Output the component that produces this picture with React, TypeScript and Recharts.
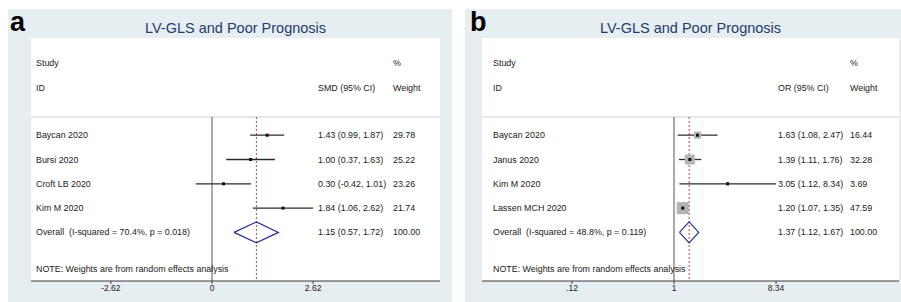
import { ComposedChart, Scatter, XAxis, YAxis, ReferenceLine } from 'recharts';

// panel a: SMD
const studiesA = ['Baycan 2020', 'Bursi 2020', 'Croft LB 2020', 'Kim M 2020'];
const estA = [1.43, 1.0, 0.3, 1.84];
const lowA = [0.99, 0.37, -0.42, 1.06];
const highA = [1.87, 1.63, 1.01, 2.62];
const weightA = [29.78, 25.22, 23.26, 21.74];
const overallA = [1.15, 0.57, 1.72];
const overallLabelA = 'Overall  (I-squared = 70.4%, p = 0.018)';
const ticksA = [-2.62, 0, 2.62];
const tickLabelsA = ['-2.62', '0', '2.62'];

// panel b: OR
const studiesB = ['Baycan 2020', 'Janus 2020', 'Kim M 2020', 'Lassen MCH 2020'];
const estB = [1.63, 1.39, 3.05, 1.2];
const lowB = [1.08, 1.11, 1.12, 1.07];
const highB = [2.47, 1.76, 8.34, 1.35];
const weightB = [16.44, 32.28, 3.69, 47.59];
const overallB = [1.37, 1.12, 1.67];
const overallLabelB = 'Overall  (I-squared = 48.8%, p = 0.119)';
const ticksB = [0.12, 1, 8.34];
const tickLabelsB = ['.12', '1', '8.34'];

const FONT = '"Liberation Sans", Arial, Helvetica, sans-serif';
const BG = '#e7eef2';
const TXT = '#1a1a1a';
const fmt = (v: number) => v.toFixed(2);

type PanelProps = {
  letter: string;
  left: number;
  width: number;
  margin: { top: number; left: number; right: number; bottom: number };
  cols: { name: number; est: number; wt: number };
  studies: string[];
  est: number[];
  low: number[];
  high: number[];
  weight: number[];
  overall: number[];
  overallLabel: string;
  measure: string;
  ticks: number[];
  tickLabels: string[];
  domain: [number, number];
  scale: 'linear' | 'log';
  nullValue: number;
  boxes: boolean;
};

const HEIGHT = 293;
const AXIS_H = 21;

function Texts({ cy, cols, texts }: { cy: number; cols: PanelProps['cols']; texts: string[] }) {
  const xs = [cols.name, cols.est, cols.wt];
  return (
    <g>
      {texts.map((t, i) =>
        t ? (
          <text
            key={i}
            x={xs[i]}
            y={cy}
            dominantBaseline="central"
            fontSize={8.9}
            fontFamily={FONT}
            fill={TXT}
            style={{ whiteSpace: 'pre' }}
          >
            {t}
          </text>
        ) : null
      )}
    </g>
  );
}

function ForestPanel(p: PanelProps) {
  const rows = p.studies.map((s, i) => ({
    x: p.est[i],
    y: 4 + i,
    texts: [s, `${fmt(p.est[i])} (${fmt(p.low[i])}, ${fmt(p.high[i])})`, fmt(p.weight[i])],
    w: p.weight[i],
  }));
  const [oe, ol, oh] = p.overall;
  const overallRow = [{ x: oe, y: 8, texts: [p.overallLabel, `${fmt(oe)} (${fmt(ol)}, ${fmt(oh)})`, '100.00'] }];
  const headers = [
    { x: oe, y: 1.03, texts: ['Study', '', '%'] },
    { x: oe, y: 2.05, texts: ['ID', `${p.measure} (95% CI)`, 'Weight'] },
    { x: oe, y: 9.52, texts: ['NOTE: Weights are from random effects analysis', '', ''] },
  ];
  const diamond = [
    { x: ol, y: 8 },
    { x: oe, y: 7.57 },
    { x: oh, y: 8 },
    { x: oe, y: 8.43 },
    { x: ol, y: 8 },
  ];
  const plotW = p.width - p.margin.left - p.margin.right;
  const plotH = HEIGHT - p.margin.top - AXIS_H;

  const rowShape = (props: any) => {
    const { cx, cy, payload } = props;
    const side = p.boxes ? Math.sqrt(payload.w) * 1.75 : 0;
    return (
      <g>
        {side > 0 && (
          <rect x={cx - side / 2} y={cy - side / 2} width={side} height={side} fill="#b4b4b4" />
        )}
        <rect x={cx - 1.5} y={cy - 1.5} width={3} height={3} fill="#111" />
        <Texts cy={cy} cols={p.cols} texts={payload.texts} />
      </g>
    );
  };
  const textShape = (props: any) => <Texts cy={props.cy} cols={p.cols} texts={props.payload.texts} />;

  return (
    <div style={{ position: 'absolute', left: p.left, top: 9, width: p.width, height: HEIGHT, background: BG }}>
      <div
        style={{
          position: 'absolute',
          left: p.margin.left,
          top: p.margin.top,
          width: plotW,
          height: plotH,
          background: '#ffffff',
        }}
      />
      <div
        style={{
          position: 'absolute',
          left: p.letter === 'a' ? 2 : 5,
          top: 0,
          fontFamily: FONT,
          fontWeight: 'bold',
          fontSize: 27,
          lineHeight: '27px',
          color: '#000',
        }}
      >
        {p.letter}
      </div>
      <div
        style={{
          position: 'absolute',
          left: p.margin.left,
          width: plotW,
          top: 11,
          textAlign: 'center',
          fontFamily: FONT,
          fontSize: 14.5,
          lineHeight: '16px',
          color: '#1f3c6e',
        }}
      >
        LV-GLS and Poor Prognosis
      </div>
      <div style={{ position: 'absolute', left: 0, top: 0 }}>
        <ComposedChart
          width={p.width}
          height={HEIGHT}
          margin={{ top: p.margin.top, left: p.margin.left, right: p.margin.right, bottom: 0 }}
        >
          <XAxis
            type="number"
            dataKey="x"
            scale={p.scale}
            domain={p.domain}
            allowDataOverflow
            ticks={p.ticks}
            tickFormatter={(v: number) => p.tickLabels[p.ticks.indexOf(v)] ?? String(v)}
            height={AXIS_H}
            tickSize={3}
            tickMargin={1}
            stroke="#3a3a3a"
            tick={{ fontSize: 8.5, fontFamily: FONT, fill: TXT }}
            interval={0}
          />
          <YAxis type="number" dataKey="y" domain={[0, 10]} reversed hide allowDataOverflow />
          <ReferenceLine y={3.25} stroke="#cfcfcf" strokeWidth={1} />
          <ReferenceLine
            segment={[
              { x: p.nullValue, y: 3.25 },
              { x: p.nullValue, y: 10 },
            ]}
            stroke="#555"
            strokeWidth={1}
          />
          <ReferenceLine
            segment={[
              { x: oe, y: 3.25 },
              { x: oe, y: 10 },
            ]}
            stroke="#d23a3a"
            strokeDasharray="2 2"
            strokeWidth={1}
          />
          {rows.map((r, i) => (
            <ReferenceLine
              key={i}
              segment={[
                { x: p.low[i], y: r.y },
                { x: p.high[i], y: r.y },
              ]}
              stroke="#2a2a2a"
              strokeWidth={1.3}
            />
          ))}
          <Scatter data={rows} shape={rowShape} isAnimationActive={false} />
          <Scatter
            data={diamond}
            line={{ stroke: '#2d2d9c', strokeWidth: 1.2 }}
            lineType="joint"
            shape={() => <g />}
            isAnimationActive={false}
          />
          <Scatter data={overallRow} shape={textShape} isAnimationActive={false} />
          <Scatter data={headers} shape={textShape} isAnimationActive={false} />
        </ComposedChart>
      </div>
    </div>
  );
}

export default function App() {
  return (
    <div style={{ position: 'absolute', left: 0, top: 0, width: 901, height: 302, background: '#fff', overflow: 'hidden' }}>
      <ForestPanel
        letter="a"
        left={8}
        width={444}
        margin={{ top: 29, left: 23, right: 12, bottom: 0 }}
        cols={{ name: 28, est: 310, wt: 385 }}
        studies={studiesA}
        est={estA}
        low={lowA}
        high={highA}
        weight={weightA}
        overall={overallA}
        overallLabel={overallLabelA}
        measure="SMD"
        ticks={ticksA}
        tickLabels={tickLabelsA}
        domain={[-4.689, 5.907]}
        scale="linear"
        nullValue={0}
        boxes={false}
      />
      <ForestPanel
        letter="b"
        left={465}
        width={436}
        margin={{ top: 29, left: 17, right: 2, bottom: 0 }}
        cols={{ name: 28, est: 313, wt: 385 }}
        studies={studiesB}
        est={estB}
        low={lowB}
        high={highB}
        weight={weightB}
        overall={overallB}
        overallLabel={overallLabelB}
        measure="OR"
        ticks={ticksB}
        tickLabels={tickLabelsB}
        domain={[0.01847, 107.5]}
        scale="log"
        nullValue={1}
        boxes={true}
      />
    </div>
  );
}
